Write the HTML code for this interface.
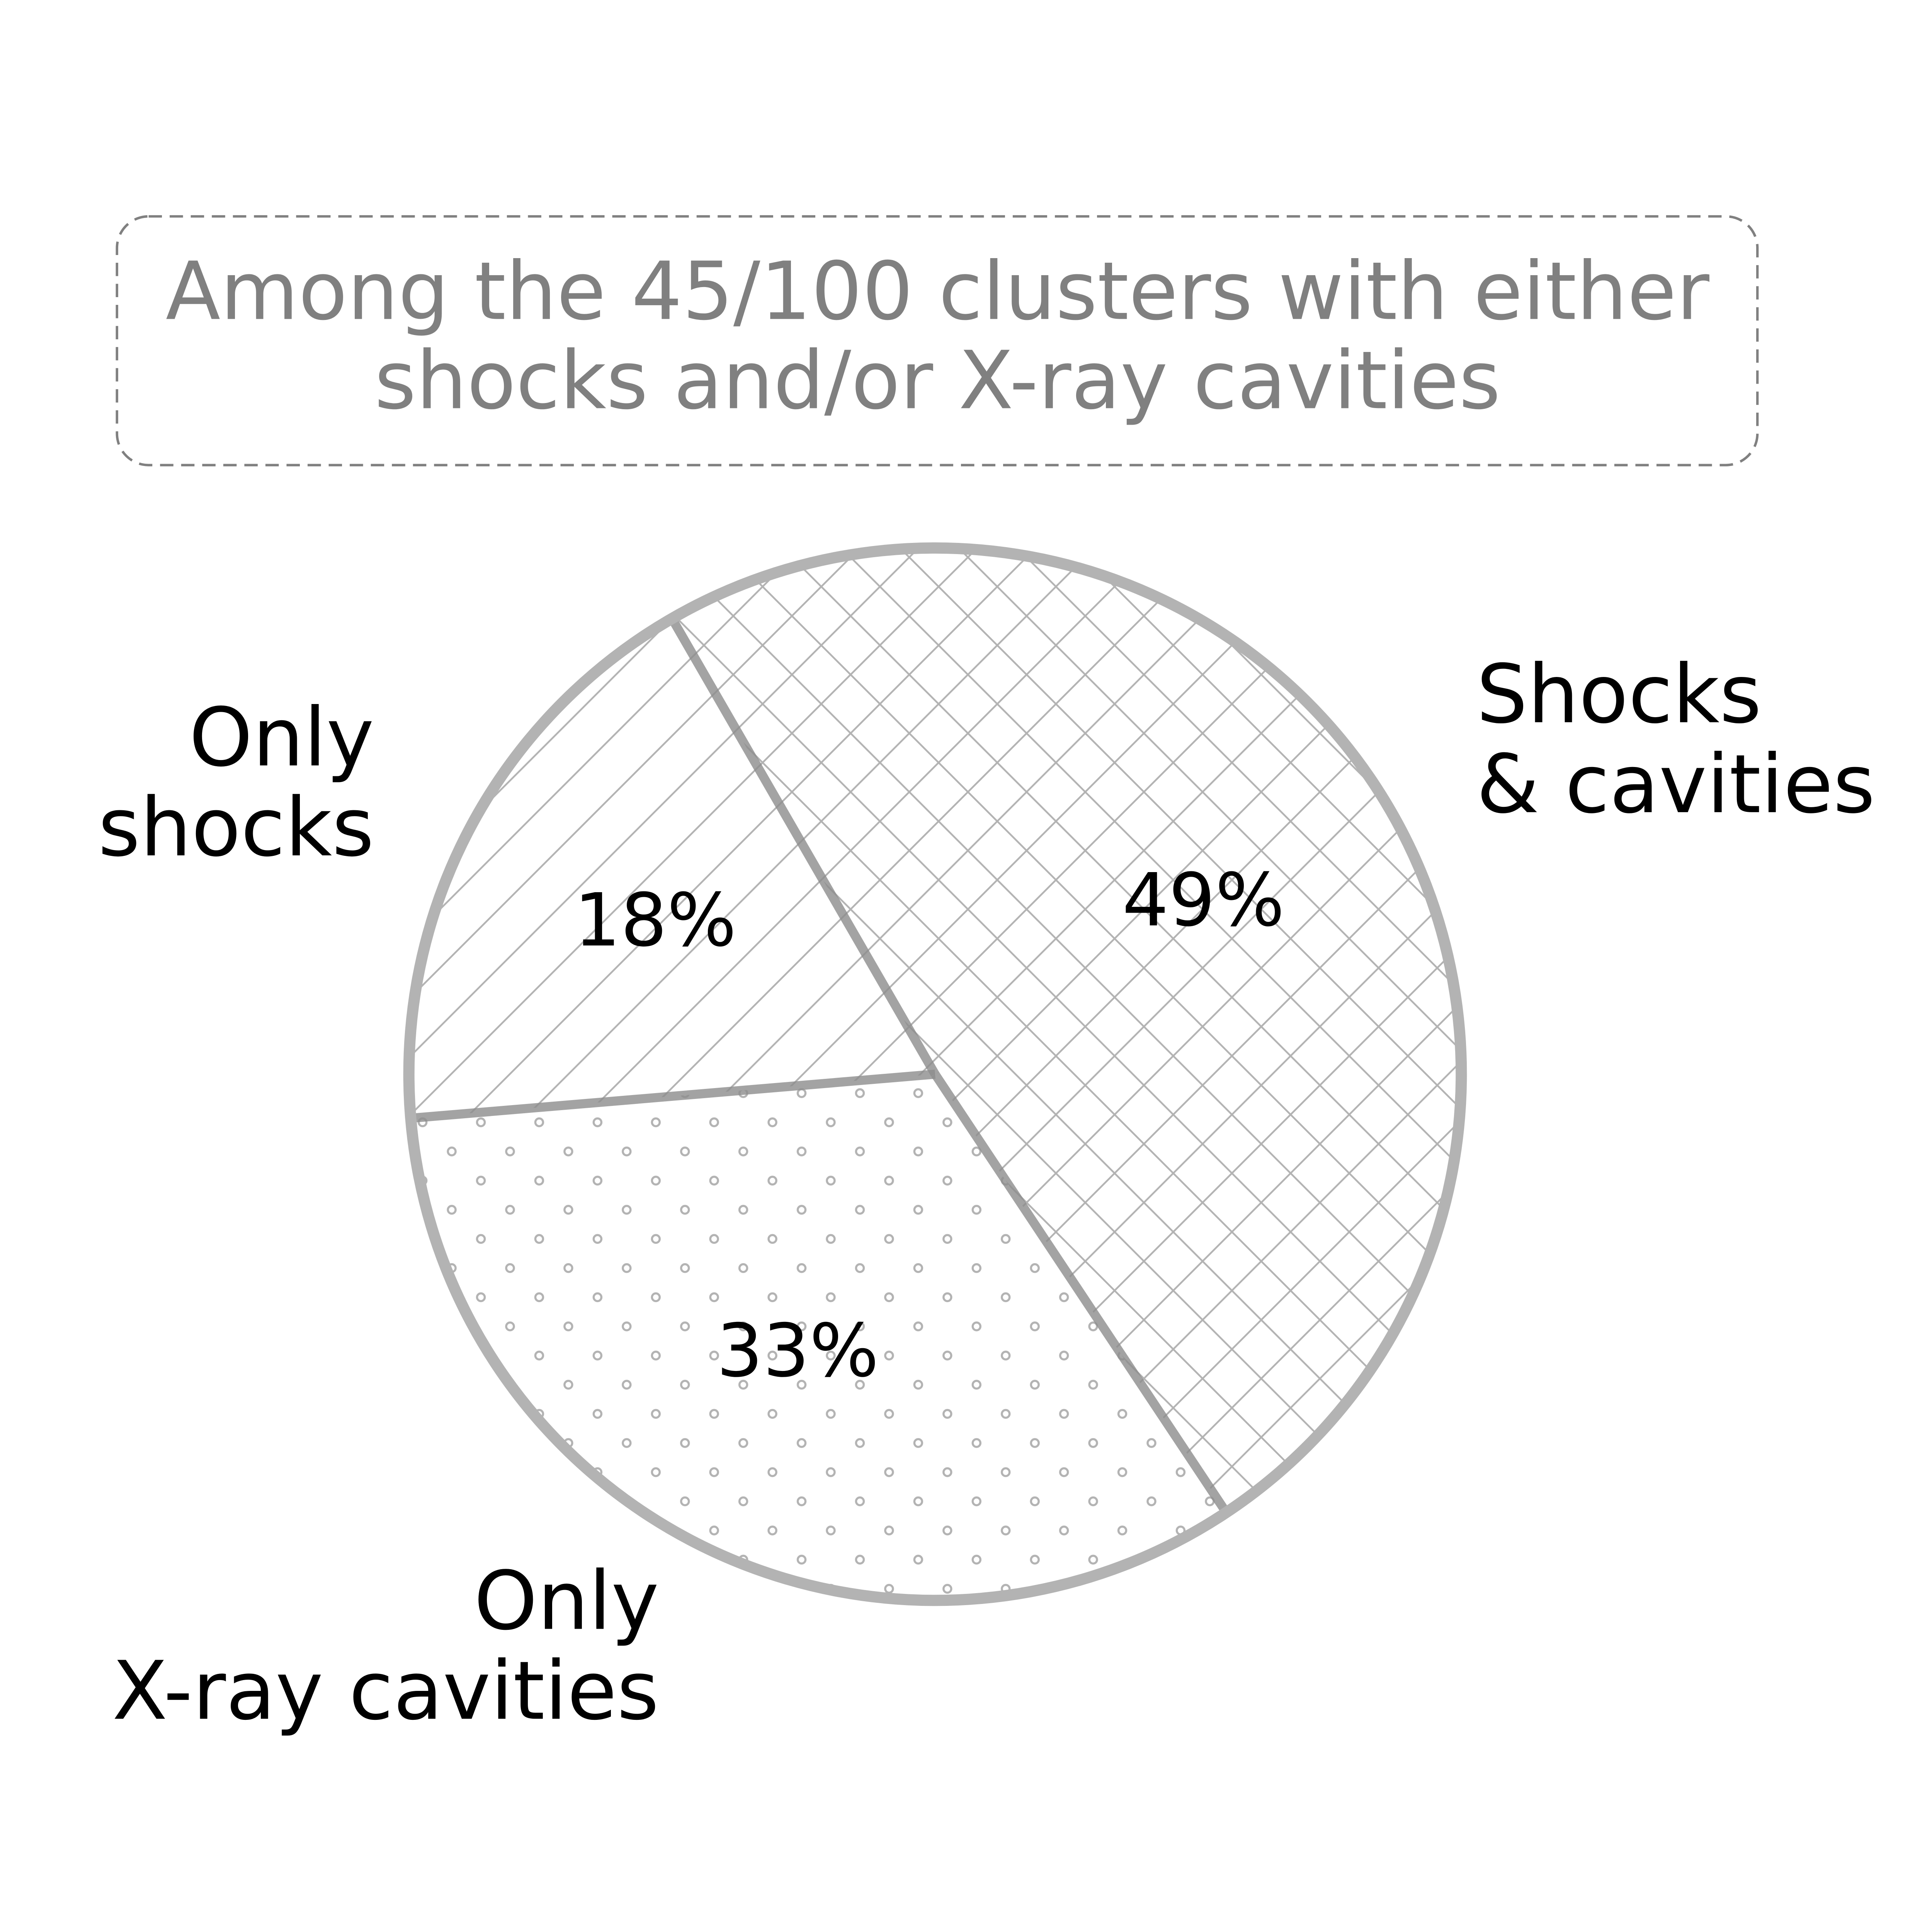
<!DOCTYPE html>
<html><head><meta charset="utf-8"><style>
html,body{margin:0;padding:0;background:#fff;overflow:hidden;width:100vw;height:100vh;}
svg{display:block;width:100vw;height:100vh;}
text{font-family:"DejaVu Sans","Liberation Sans",sans-serif;}
</style></head><body>
<svg id="chart" viewBox="0 0 5500 5500" preserveAspectRatio="xMidYMid meet" xmlns="http://www.w3.org/2000/svg">
<defs>
<pattern id="hatchSingle" patternUnits="userSpaceOnUse" width="167" height="167">
<path d="M-20,187 L187,-20 M-20,20 L20,-20 M147,187 L187,147" stroke="#b3b3b3" stroke-width="5" fill="none"/>
</pattern>
<pattern id="hatchCross" patternUnits="userSpaceOnUse" width="167" height="167">
<path d="M-20,187 L187,-20 M-20,20 L20,-20 M147,187 L187,147 M-20,-20 L187,187 M147,-20 L187,20 M-20,147 L20,187" stroke="#b3b3b3" stroke-width="5" fill="none"/>
</pattern>
<pattern id="dots" patternUnits="userSpaceOnUse" width="166" height="166">
<circle cx="41" cy="41" r="11" fill="none" stroke="#b3b3b3" stroke-width="6"/>
<circle cx="124" cy="124" r="11" fill="none" stroke="#b3b3b3" stroke-width="6"/>
</pattern>
</defs>
<rect x="333" y="616" width="4670" height="708" rx="90" ry="90" fill="none" stroke="#808080" stroke-width="7" stroke-dasharray="38,22"/>
<text x="2669" y="908" font-size="228" fill="#808080" text-anchor="middle">Among the 45/100 clusters with either</text>
<text x="2669" y="1162" font-size="228" fill="#808080" text-anchor="middle">shocks and/or X-ray cavities</text>
<g id="slices"></g>
<circle cx="2662" cy="3058" r="1498" fill="none" stroke="#b3b3b3" stroke-width="32"/>
<g id="labels"></g>
</svg>
<script>
const categories = ["Only shocks", "Only X-ray cavities", "Shocks & cavities"];
const values = [18, 33, 49];
const pctLabels = ["18%", "33%", "49%"];
const startAngle = 120;
const fills = ["url(#hatchSingle)", "url(#dots)", "url(#hatchCross)"];

const cx = 2662, cy = 3058, R = 1498;
const NS = "http://www.w3.org/2000/svg";
const total = values.reduce((a, b) => a + b, 0);
const slices = document.getElementById('slices');
const labels = document.getElementById('labels');
function pt(angDeg, r) {
  const a = angDeg * Math.PI / 180;
  return [cx + r * Math.cos(a), cy - r * Math.sin(a)];
}
let ang = startAngle;
const edges = [];
values.forEach((v, i) => {
  const sweep = v / total * 360;
  const a0 = ang, a1 = ang + sweep;
  const p0 = pt(a0, R), p1 = pt(a1, R);
  const large = sweep > 180 ? 1 : 0;
  const path = document.createElementNS(NS, 'path');
  path.setAttribute('d', `M${cx},${cy} L${p0[0]},${p0[1]} A${R},${R} 0 ${large} 0 ${p1[0]},${p1[1]} Z`);
  path.setAttribute('fill', fills[i]);
  path.setAttribute('stroke', 'none');
  
  
  slices.appendChild(path);
  edges.push(a0);
  const mid = (a0 + a1) / 2;
  const lp = pt(mid, R * 0.6);
  const t = document.createElementNS(NS, 'text');
  t.setAttribute('x', lp[0]);
  t.setAttribute('y', lp[1] + 50);
  t.setAttribute('font-size', '208');
  t.setAttribute('text-anchor', 'middle');
  t.setAttribute('fill', '#000');
  t.textContent = pctLabels[i];
  
  
  labels.appendChild(t);
  ang = a1;
});
edges.forEach(a => {
  const p = pt(a, R);
  const l = document.createElementNS(NS, 'line');
  l.setAttribute('x1', cx); l.setAttribute('y1', cy);
  l.setAttribute('x2', p[0]); l.setAttribute('y2', p[1]);
  l.setAttribute('stroke', '#8c8c8c');
  l.setAttribute('stroke-opacity', '0.8');
  l.setAttribute('stroke-width', '26');
  
  
  slices.appendChild(l);
});
const catLabels = [
  {lines: ["Only", "shocks"], x: 1065, y: 2179, anchor: "end"},
  {lines: ["Only", "X-ray cavities"], x: 1876, y: 4637, anchor: "end"},
  {lines: ["Shocks", "& cavities"], x: 4203, y: 2056, anchor: "start"}
];
catLabels.forEach((c, i) => {
  const t = document.createElementNS(NS, 'text');
  t.setAttribute('x', c.x); t.setAttribute('y', c.y);
  t.setAttribute('font-size', '230');
  t.setAttribute('text-anchor', c.anchor);
  t.setAttribute('fill', '#000');
  
  
  c.lines.forEach((ln, j) => {
    const s = document.createElementNS(NS, 'tspan');
    s.setAttribute('x', c.x);
    s.setAttribute('dy', j === 0 ? 0 : 256);
    s.textContent = ln;
    t.appendChild(s);
  });
  labels.appendChild(t);
});
</script>
</body></html>
